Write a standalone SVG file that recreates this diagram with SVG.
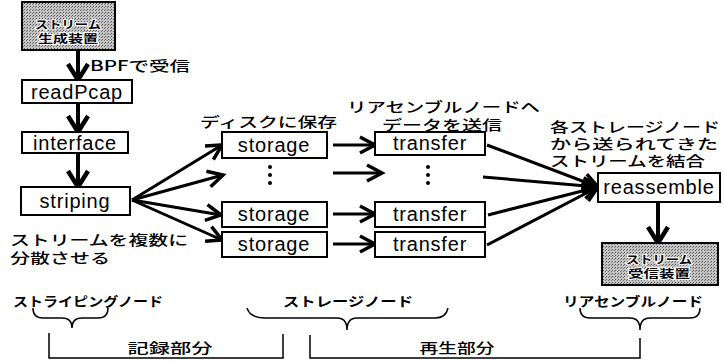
<svg xmlns="http://www.w3.org/2000/svg" width="724" height="361" viewBox="0 0 724 361">
<defs>
<style>
.box{fill:#fff;stroke:#000;stroke-width:2}
.gbox{fill:url(#dots);stroke:#000;stroke-width:2}
.lbl{font-family:"Liberation Sans","Noto Sans CJK JP",sans-serif;font-size:20px;letter-spacing:0.8px;text-anchor:middle;dominant-baseline:central;fill:#000}
.jp{font-family:"Noto Sans CJK JP",sans-serif;font-size:14px;font-weight:500;dominant-baseline:central;fill:#000}
.jpb{font-family:"Noto Sans CJK JP",sans-serif;font-size:13px;font-weight:bold;dominant-baseline:central;fill:#000}
.gt{font-family:"Noto Sans CJK JP",sans-serif;font-size:11px;font-weight:bold;text-anchor:middle;dominant-baseline:central;fill:#000;stroke:#fff;stroke-width:2;paint-order:stroke}
.thick{stroke:#000;stroke-width:4;fill:none;marker-end:url(#big)}
.thin{stroke:#000;stroke-width:3;fill:none;marker-end:url(#v)}
.br{stroke:#000;stroke-width:1.5;fill:none}
</style>
<pattern id="dots" width="3" height="3" patternUnits="userSpaceOnUse">
<rect width="3" height="3" fill="#c4c4c4"/>
<rect width="1" height="1" fill="#555"/>
<rect x="2" y="1" width="1" height="1" fill="#777"/>
</pattern>
<marker id="v" markerUnits="userSpaceOnUse" markerWidth="24" markerHeight="24" refX="18" refY="10" orient="auto">
<path d="M3,2 L18,10 L3,18" fill="none" stroke="#000" stroke-width="3.5"/>
</marker>
<marker id="big" markerUnits="userSpaceOnUse" markerWidth="28" markerHeight="28" refX="20" refY="12" orient="auto">
<path d="M4,2 L20,12 L4,22" fill="none" stroke="#000" stroke-width="4.5"/>
</marker>
</defs>

<g id="connectors">
<line class="thick" x1="78" y1="50" x2="78" y2="80"/>
<line class="thick" x1="78" y1="103" x2="78" y2="132"/>
<line class="thick" x1="78" y1="153" x2="78" y2="187"/>
<line class="thin" x1="132" y1="200" x2="222" y2="145"/>
<line class="thin" x1="132" y1="200" x2="223" y2="175"/>
<line class="thin" x1="132" y1="200" x2="221" y2="215"/>
<line class="thin" x1="132" y1="200" x2="222" y2="240"/>
<line class="thin" x1="333" y1="145" x2="375" y2="145"/>
<line class="thin" x1="333" y1="173" x2="382" y2="173"/>
<line class="thin" x1="333" y1="214" x2="375" y2="214"/>
<line class="thin" x1="333" y1="244" x2="375" y2="244"/>
<line class="thin" x1="487" y1="145" x2="598" y2="187"/>
<line class="thin" x1="483" y1="177" x2="598" y2="187"/>
<line class="thin" x1="488" y1="215" x2="598" y2="187"/>
<line class="thin" x1="487" y1="245" x2="598" y2="187"/>
<line class="thick" x1="658" y1="202" x2="658" y2="243"/>
</g>

<g id="source">
<rect class="gbox" x="22" y="2" width="93" height="48"/>
<text class="gt" x="68" y="24" textLength="66" lengthAdjust="spacingAndGlyphs">ストリーム</text>
<text class="gt" x="68" y="38" textLength="60" lengthAdjust="spacingAndGlyphs">生成装置</text>
</g>
<g id="readPcap"><rect class="box" x="22" y="80" width="110" height="23"/><text class="lbl" x="77" y="92">readPcap</text></g>
<g id="interface"><rect class="box" x="22" y="132" width="106" height="21"/><text class="lbl" x="75" y="143">interface</text></g>
<g id="striping"><rect class="box" x="21" y="187" width="109" height="28"/><text class="lbl" x="75" y="201">striping</text></g>

<g id="storage1"><rect class="box" x="222" y="132" width="105" height="26"/><text class="lbl" x="274" y="145">storage</text></g>
<g id="storage-dots"><circle cx="270" cy="167" r="2"/><circle cx="270" cy="175" r="2"/><circle cx="270" cy="183" r="2"/></g>
<g id="storage2"><rect class="box" x="222" y="202" width="105" height="25"/><text class="lbl" x="274" y="214">storage</text></g>
<g id="storage3"><rect class="box" x="222" y="232" width="105" height="25"/><text class="lbl" x="274" y="244">storage</text></g>

<g id="transfer1"><rect class="box" x="375" y="132" width="110" height="23"/><text class="lbl" x="430" y="143">transfer</text></g>
<g id="transfer-dots"><circle cx="428" cy="167" r="2"/><circle cx="428" cy="175" r="2"/><circle cx="428" cy="183" r="2"/></g>
<g id="transfer2"><rect class="box" x="375" y="202" width="110" height="25"/><text class="lbl" x="430" y="214">transfer</text></g>
<g id="transfer3"><rect class="box" x="375" y="232" width="110" height="25"/><text class="lbl" x="430" y="244">transfer</text></g>

<g id="reassemble"><rect class="box" x="598" y="173" width="122" height="29"/><text class="lbl" x="659" y="187" letter-spacing="1">reassemble</text></g>
<g id="receiver">
<rect class="gbox" x="602" y="243" width="116" height="42"/>
<text class="gt" x="659" y="259" textLength="66" lengthAdjust="spacingAndGlyphs">ストリーム</text>
<text class="gt" x="659" y="273" textLength="62" lengthAdjust="spacingAndGlyphs">受信装置</text>
</g>

<g id="labels">
<text class="jp" x="90" y="65" textLength="100" lengthAdjust="spacingAndGlyphs">BPFで受信</text>
<text class="jp" x="200" y="121" textLength="137" lengthAdjust="spacingAndGlyphs">ディスクに保存</text>
<text class="jp" x="347" y="106" textLength="193" lengthAdjust="spacingAndGlyphs">リアセンブルノードへ</text>
<text class="jp" x="382" y="124" textLength="120" lengthAdjust="spacingAndGlyphs">データを送信</text>
<text class="jp" x="550" y="126" textLength="170" lengthAdjust="spacingAndGlyphs">各ストレージノード</text>
<text class="jp" x="550" y="143" textLength="168" lengthAdjust="spacingAndGlyphs">から送られてきた</text>
<text class="jp" x="550" y="160" textLength="155" lengthAdjust="spacingAndGlyphs">ストリームを結合</text>
<text class="jp" x="10" y="239" textLength="178" lengthAdjust="spacingAndGlyphs">ストリームを複数に</text>
<text class="jp" x="10" y="257" textLength="100" lengthAdjust="spacingAndGlyphs">分散させる</text>
</g>

<g id="groups">
<text class="jpb" x="13" y="300" textLength="150" lengthAdjust="spacingAndGlyphs">ストライピングノード</text>
<path class="br" d="M33,308 Q33,318 43,318 L62,318 Q72,318 72,328 Q72,318 82,318 L98,318 Q108,318 108,308"/>
<text class="jpb" x="283" y="300" textLength="130" lengthAdjust="spacingAndGlyphs">ストレージノード</text>
<path class="br" d="M247,308 Q250,318 265,318 L337,318 Q347,318 347,330 Q347,318 357,318 L435,318 Q446,318 448,308"/>
<text class="jpb" x="563" y="300" textLength="140" lengthAdjust="spacingAndGlyphs">リアセンブルノード</text>
<path class="br" d="M580,308 Q580,318 590,318 L630,318 Q640,318 640,330 Q640,318 650,318 L690,318 Q700,318 700,308"/>
<path class="br" d="M49,333 L49,358 L283,358 L283,334"/>
<text class="jp" x="170" y="347" text-anchor="middle" textLength="85" lengthAdjust="spacingAndGlyphs">記録部分</text>
<path class="br" d="M310,335 L310,358 L640,358 L640,338"/>
<text class="jp" x="457" y="347" text-anchor="middle" textLength="75" lengthAdjust="spacingAndGlyphs">再生部分</text>
</g>
</svg>
